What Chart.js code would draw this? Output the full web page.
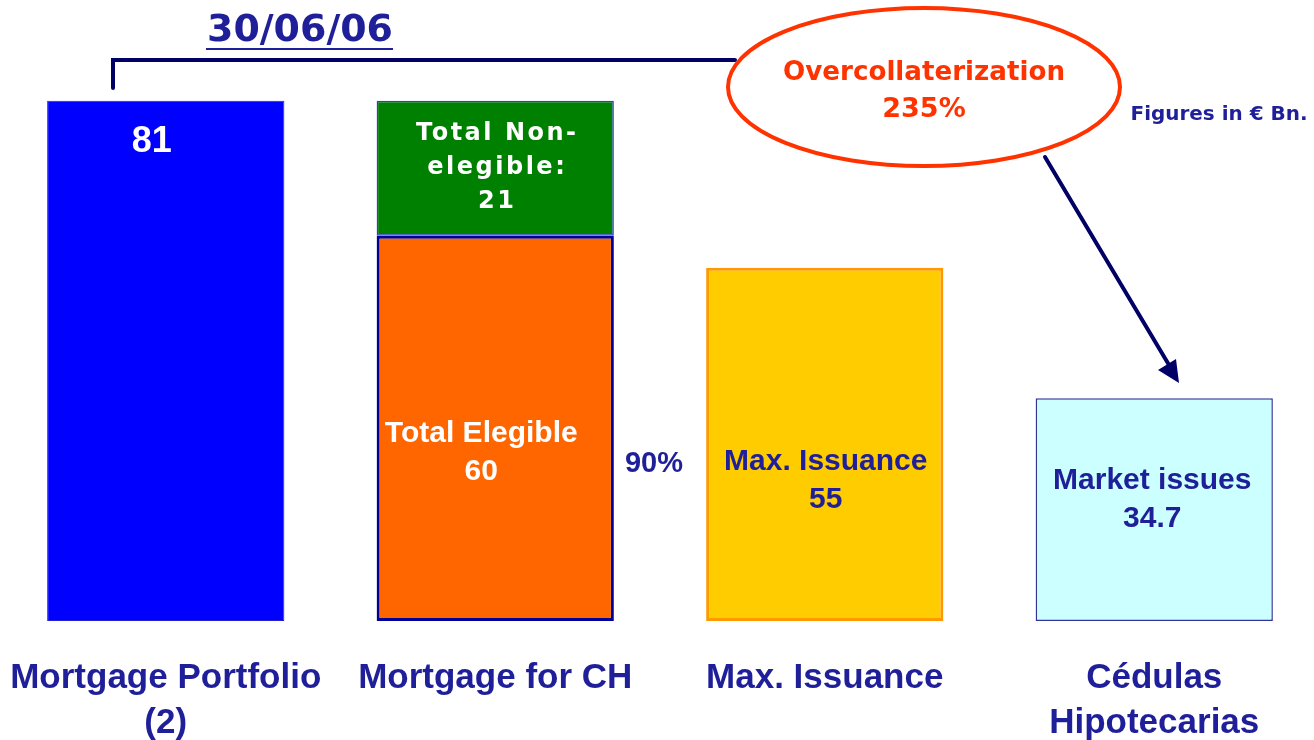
<!DOCTYPE html>
<html>
<head>
<meta charset="utf-8">
<script src="https://cdn.jsdelivr.net/npm/chart.js@4/dist/chart.umd.min.js"></script>
<style>
  body { margin: 0; background: #fff; overflow: hidden; }
  #wrap { width: 1314px; height: 740px; overflow: hidden; }
</style>
</head>
<body>
<div id="wrap"><canvas id="myChart" width="1320" height="740"></canvas></div>
<script>
// データ（単位：€ Bn.）
const categories = [['Mortgage Portfolio', '(2)'], 'Mortgage for CH', 'Max. Issuance', ['Cédulas', 'Hipotecarias']];
const mainValues = [81, 60, 55, 34.7];
const nonElegibleValues = [null, 21, null, null];
const barTexts = [['81'], ['Total Elegible', '60'], ['Max. Issuance', '55'], ['Market issues', '34.7']];
const nonElegibleText = ['Total Non-', 'elegible:', '21'];
const dateLabel = '30/06/06';
const overLabel = ['Overcollaterization', '235%'];
const ratioLabel = '90%';
const unitLabel = 'Figures in € Bn.';

const navy = '#1F1F99';
const darkNavy = '#000066';
const red = '#FF3300';

// 棒の中の文字と注記を描く
const notesPlugin = {
  id: 'notes',
  afterDatasetsDraw(chart) {
    const ctx = chart.ctx;
    const bars = chart.getDatasetMeta(0).data;
    const green = chart.getDatasetMeta(1).data[1];
    ctx.save();
    ctx.textAlign = 'center';
    ctx.textBaseline = 'middle';

    // 各棒のラベル
    const styles = [
      { color: '#fff', size: 36, dx: -14, dy: 41 },
      { color: '#fff', size: 30, dx: -14, dy: 198 },
      { color: navy, size: 30, dx: 1, dy: 194 },
      { color: navy, size: 30, dx: -2, dy: 83 }
    ];
    bars.forEach((bar, i) => {
      const s = styles[i];
      ctx.fillStyle = s.color;
      ctx.font = 'bold ' + s.size + 'px "Liberation Sans", Arial, sans-serif';
      barTexts[i].forEach((t, k) => {
        ctx.fillText(t, bar.x + s.dx, bar.y + s.dy + k * 38);
      });
    });

    // 非適格分のラベル
    ctx.fillStyle = '#fff';
    ctx.font = 'bold 24px "DejaVu Sans", sans-serif';
    ctx.letterSpacing = '2.5px';
    nonElegibleText.forEach((t, k) => {
      ctx.fillText(t, green.x + 2, green.y + 33 + k * 34);
    });
    ctx.letterSpacing = '0px';

    // 90%
    ctx.fillStyle = navy;
    ctx.font = 'bold 29px "Liberation Sans", Arial, sans-serif';
    ctx.fillText(ratioLabel, 654, 464);

    // 日付と下線
    ctx.font = 'bold 38px "DejaVu Sans", sans-serif';
    ctx.fillText(dateLabel, 300, 31, 186);
    ctx.fillRect(206, 48, 187, 2);

    // 括弧線
    ctx.strokeStyle = darkNavy;
    ctx.lineWidth = 4;
    ctx.lineCap = 'round';
    ctx.beginPath();
    ctx.moveTo(113, 88);
    ctx.lineTo(113, 60);
    ctx.lineTo(735, 60);
    ctx.stroke();

    // 楕円
    ctx.fillStyle = '#fff';
    ctx.strokeStyle = red;
    ctx.beginPath();
    ctx.ellipse(924, 87, 196, 79, 0, 0, Math.PI * 2);
    ctx.fill();
    ctx.stroke();
    ctx.fillStyle = red;
    ctx.font = 'bold 27px "DejaVu Sans", sans-serif';
    ctx.fillText(overLabel[0], 924, 73, 282);
    ctx.fillText(overLabel[1], 924, 110);

    // 矢印
    ctx.strokeStyle = darkNavy;
    ctx.fillStyle = darkNavy;
    ctx.beginPath();
    ctx.moveTo(1045, 157);
    ctx.lineTo(1172, 370);
    ctx.stroke();
    ctx.beginPath();
    ctx.moveTo(1179, 383);
    ctx.lineTo(1158, 370);
    ctx.lineTo(1176, 359);
    ctx.closePath();
    ctx.fill();

    // 単位
    ctx.fillStyle = navy;
    ctx.font = 'bold 20px "DejaVu Sans", sans-serif';
    ctx.fillText(unitLabel, 1219, 115, 177);
    ctx.restore();
  }
};

const ctx = document.getElementById('myChart');
const myChart = new Chart(ctx, {
  type: 'bar',
  data: {
    labels: categories,
    datasets: [{
      label: 'main',
      data: mainValues,
      backgroundColor: ['#0000FF', '#FF6600', '#FFCC00', '#CCFFFF'],
      borderColor: ['#2222CC', '#000099', '#FF9900', '#333399'],
      borderWidth: [1, 3, 3, 1.5],
      borderSkipped: false
    }, {
      label: 'non-elegible',
      data: nonElegibleValues,
      backgroundColor: '#008000',
      borderColor: '#3333FF',
      borderWidth: 1.5,
      borderSkipped: false
    }]
  },
  options: {
    responsive: false,
    animation: false,
    layout: { padding: { top: 43, left: 1, right: 1, bottom: 0 } },
    datasets: { bar: { categoryPercentage: 1, barPercentage: 0.72 } },
    plugins: {
      legend: { display: false },
      tooltip: { enabled: false }
    },
    scales: {
      x: {
        stacked: true,
        grid: { display: false, drawTicks: false },
        border: { display: false },
        ticks: {
          color: navy,
          padding: 35,
          font: { family: '"Liberation Sans", Arial, sans-serif', size: 35, weight: 'bold', lineHeight: 1.28 }
        },
        afterFit(scale) {
          scale.height = 119;
          scale.paddingLeft = 0;
          scale.paddingRight = 0;
        }
      },
      y: {
        stacked: true,
        display: false,
        min: 0,
        max: 90
      }
    }
  },
  plugins: [notesPlugin]
});
</script>
</body>
</html>
